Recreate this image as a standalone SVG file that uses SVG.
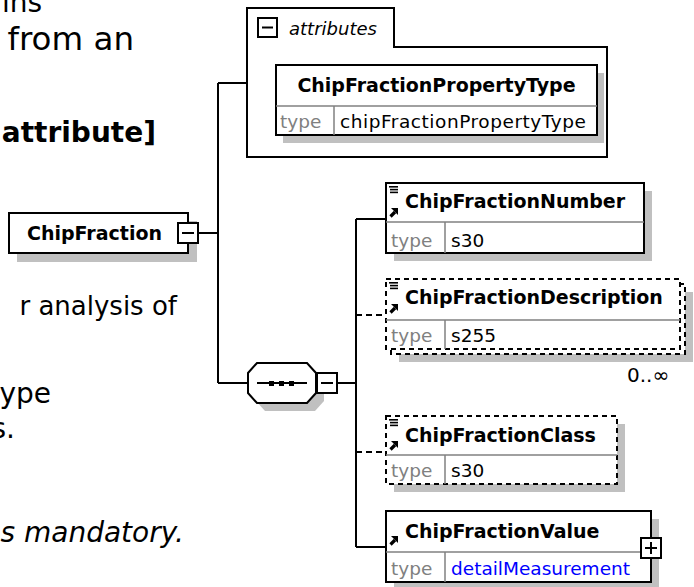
<svg xmlns="http://www.w3.org/2000/svg" width="694" height="587" viewBox="0 0 694 587">
<style>
.bg{fill:#fff}
.box{fill:#fff;stroke:#000;stroke-width:2}
.dash{stroke-dasharray:5 4}
.shadow{fill:#c0c0c0;stroke:none}
.div{stroke:#808080;stroke-width:1.5;fill:none}
.name{font-family:"DejaVu Sans",Verdana,sans-serif;font-weight:bold;font-size:19px;fill:#000}
.lbl{font-family:"DejaVu Sans",Verdana,sans-serif;font-size:18.5px;fill:#808080}
.val{font-family:"DejaVu Sans",Verdana,sans-serif;font-size:18.5px;fill:#000}
.conn{stroke:#000;stroke-width:2;fill:none}
.cdash{stroke-dasharray:6 4}
.page{font-family:"DejaVu Sans",Verdana,sans-serif;font-size:28px;fill:#000}
.btn{fill:#fff;stroke:#000;stroke-width:2}
.sign{stroke:#000;stroke-width:2}
</style>
<defs>
<g id="arrowIcon">
<path d="M1.5,8.5 L6,4" stroke="#000" stroke-width="3.2"/>
<polygon points="2,0 9,0 9,7" fill="#000"/>
</g>
<g id="docIcon" stroke="#000" stroke-width="1.6">
<line x1="0" y1="0.8" x2="9" y2="0.8"/>
<line x1="1" y1="3.6" x2="9" y2="3.6"/>
<line x1="1" y1="6.4" x2="9" y2="6.4"/>
</g>
</defs>
<rect class="bg" x="0" y="0" width="694" height="587"/>

<g id="page-text">
<text class="page" x="42" y="12" text-anchor="end">ins</text>
<text class="page" x="134" y="50" text-anchor="end" style="font-size:32.5px">from an</text>
<text class="page" x="156" y="142" text-anchor="end" font-weight="bold">attribute]</text>
<text class="page" x="177" y="315" text-anchor="end" style="font-size:26px">r analysis of</text>
<text class="page" x="51" y="403" text-anchor="end">ype</text>
<text class="page" x="15" y="438" text-anchor="end">s.</text>
<text class="page" x="184" y="542" text-anchor="end" font-style="italic">s mandatory.</text>
</g>

<g id="connectors">
<path class="conn" d="M198,233 H218"/>
<path class="conn" d="M218,83 V383"/>
<path class="conn" d="M218,83 H247"/>
<path class="conn" d="M218,383 H248"/>
<path class="conn" d="M337,383 H356"/>
<path class="conn" d="M356,219 V547"/>
<path class="conn" d="M356,219 H386"/>
<path class="conn cdash" d="M356,315 H386"/>
<path class="conn cdash" d="M356,452 H386"/>
<path class="conn" d="M356,547 H386"/>
</g>

<g id="ChipFraction">
<rect class="shadow" x="17" y="221" width="180" height="41"/>
<rect class="box" x="9" y="213" width="179" height="40"/>
<text class="name" x="27" y="240">ChipFraction</text>
<rect class="btn" x="178" y="223" width="20" height="20"/>
<line class="sign" x1="182" y1="233" x2="194" y2="233"/>
</g>

<g id="attributes">
<path class="box" d="M247,8 H394 V47 H607 V157 H247 Z"/>
<rect class="btn" x="258" y="18" width="19" height="19"/>
<line class="sign" x1="262" y1="27.5" x2="273" y2="27.5"/>
<text x="289" y="35" font-family="DejaVu Sans, Verdana, sans-serif" font-style="italic" font-size="18">attributes</text>
</g>

<g id="ChipFractionPropertyType">
<rect class="shadow" x="283" y="73" width="321" height="70"/>
<rect class="box" x="276" y="65" width="321" height="70"/>
<line class="div" x1="276" y1="106" x2="597" y2="106"/>
<line class="div" x1="334" y1="106" x2="334" y2="135"/>
<text class="name" x="436.5" y="92" text-anchor="middle">ChipFractionPropertyType</text>
<text class="lbl" x="280" y="128">type</text>
<text class="val" x="340" y="128" textLength="246">chipFractionPropertyType</text>
</g>

<g id="sequence">
<polygon class="shadow" points="265,371 315,371 324,381 324,401 315,411 265,411 256,401 256,381"/>
<polygon class="box" points="257,363 307,363 316,373 316,393 307,403 257,403 248,393 248,373"/>
<line x1="257" y1="383" x2="307" y2="383" stroke="#000" stroke-width="2"/>
<rect x="269" y="381" width="5" height="5" fill="#000"/>
<rect x="279" y="381" width="5" height="5" fill="#000"/>
<rect x="289" y="381" width="5" height="5" fill="#000"/>
<rect class="btn" x="317" y="373" width="20" height="20"/>
<line class="sign" x1="321" y1="383" x2="333" y2="383"/>
</g>

<g id="ChipFractionNumber">
<rect class="shadow" x="394" y="191" width="258" height="70"/>
<rect class="box" x="386" y="183" width="258" height="70"/>
<line class="div" x1="386" y1="222" x2="644" y2="222"/>
<line class="div" x1="445" y1="222" x2="445" y2="253"/>
<use href="#docIcon" x="389" y="186"/>
<use href="#arrowIcon" x="389" y="208"/>
<text class="name" x="405" y="208">ChipFractionNumber</text>
<text class="lbl" x="391" y="247">type</text>
<text class="val" x="451" y="247">s30</text>
</g>

<g id="ChipFractionDescription">
<rect class="shadow" x="399" y="292" width="294" height="70"/>
<line x1="655" y1="350" x2="666" y2="360" stroke="#c0c0c0" stroke-width="2"/>
<rect class="box dash" x="391" y="284" width="294" height="70"/>
<rect class="box dash" x="386" y="279" width="294" height="70"/>
<line class="div" x1="386" y1="320" x2="680" y2="320"/>
<line class="div" x1="445" y1="320" x2="445" y2="349"/>
<use href="#docIcon" x="389" y="282"/>
<use href="#arrowIcon" x="389" y="304"/>
<text class="name" x="405" y="304">ChipFractionDescription</text>
<text class="lbl" x="391" y="342">type</text>
<text class="val" x="451" y="342">s255</text>
<text class="val" x="627" y="382" style="font-size:20px">0..∞</text>
</g>

<g id="ChipFractionClass">
<rect class="shadow" x="394" y="424" width="231" height="68"/>
<rect class="box dash" x="386" y="416" width="231" height="68"/>
<line class="div" x1="386" y1="455" x2="617" y2="455"/>
<line class="div" x1="445" y1="455" x2="445" y2="484"/>
<use href="#docIcon" x="389" y="419"/>
<use href="#arrowIcon" x="389" y="441"/>
<text class="name" x="405" y="442">ChipFractionClass</text>
<text class="lbl" x="391" y="477">type</text>
<text class="val" x="451" y="477">s30</text>
</g>

<g id="ChipFractionValue">
<rect class="shadow" x="394" y="519" width="265" height="71"/>
<rect class="box" x="386" y="511" width="265" height="71"/>
<line class="div" x1="386" y1="552" x2="651" y2="552"/>
<line class="div" x1="445" y1="552" x2="445" y2="582"/>
<use href="#arrowIcon" x="389" y="536"/>
<text class="name" x="405" y="538">ChipFractionValue</text>
<text class="lbl" x="391" y="575">type</text>
<text class="val" x="451" y="575" style="fill:#0000ff">detailMeasurement</text>
<rect class="btn" x="641" y="538" width="20" height="20"/>
<line class="sign" x1="645" y1="548" x2="657" y2="548"/>
<line class="sign" x1="651" y1="542" x2="651" y2="554"/>
</g>
</svg>
